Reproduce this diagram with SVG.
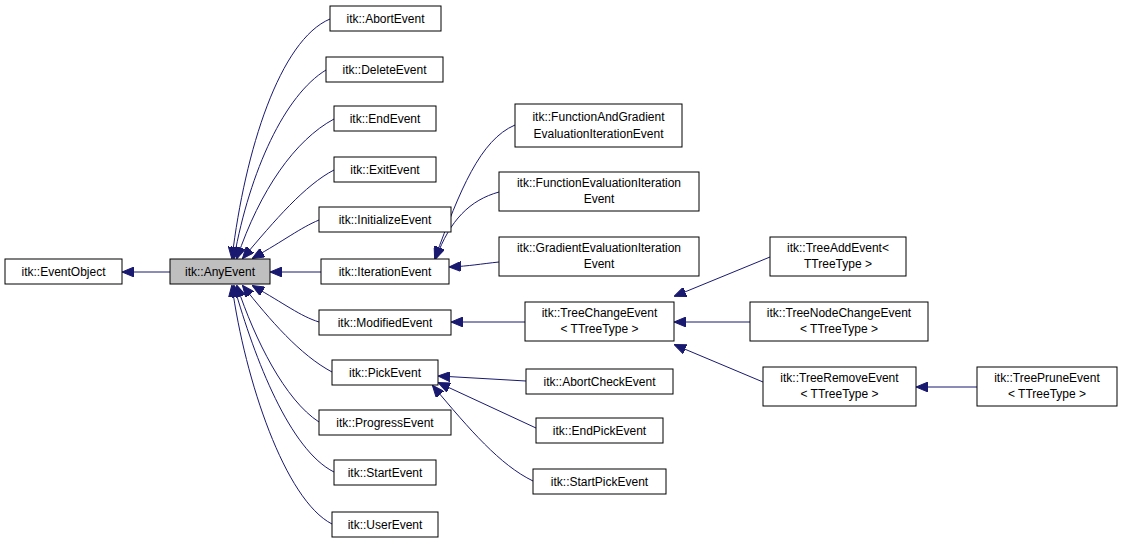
<svg xmlns="http://www.w3.org/2000/svg" width="1123" height="544" viewBox="0 0 1123 544">
<style>
.n rect{fill:#fff;stroke:#000;stroke-width:1}
.n text{font-family:"Liberation Sans",Arial,sans-serif;font-size:12px;text-anchor:middle;fill:#000}
#e path{fill:none;stroke:#191970;stroke-width:1;marker-end:url(#a)}
</style>
<defs><marker id="a" markerWidth="12" markerHeight="10" refX="11" refY="5" orient="auto" markerUnits="userSpaceOnUse"><path d="M0,0 L12,5 L0,10 Z" fill="#191970" stroke="#191970"/></marker></defs>
<rect width="1123" height="544" fill="#fff"/>
<g id="e">
<path d="M170,272 H123"/>
<path d="M330,19 C280,40 245,150 232,258"/>
<path d="M326,70 C285,95 250,170 234,258"/>
<path d="M334,119 C295,140 260,190 237,258"/>
<path d="M334,170 C305,185 275,220 243,258"/>
<path d="M319,220 C300,228 285,240 253,258"/>
<path d="M321,272 H271"/>
<path d="M319,322 C300,316 285,304 253,286"/>
<path d="M332,372 C300,355 270,320 243,286"/>
<path d="M319,422 C285,400 255,340 237,286"/>
<path d="M334,472 C290,450 255,360 234,286"/>
<path d="M332,524 C285,500 245,380 232,286"/>
<path d="M515,125 C480,140 460,190 435,258"/>
<path d="M499,192 C470,200 450,220 436,258"/>
<path d="M499,262 C480,264 470,266 450,267"/>
<path d="M525,322 H452"/>
<path d="M526,381 L439,376"/>
<path d="M536,428 L439,383"/>
<path d="M533,481 C500,465 470,430 433,386"/>
<path d="M770,257 L675,296"/>
<path d="M750,322 H675"/>
<path d="M763,382 L675,345"/>
<path d="M977,387 H917"/>
</g>
<g id="EventObject" class="n"><rect x="5" y="259" width="117" height="25"/><text x="63.5" y="276">itk::EventObject</text></g>
<g id="AnyEvent" class="n"><rect x="170" y="259" width="100" height="25" style="fill:#bfbfbf"/><text x="220" y="276">itk::AnyEvent</text></g>
<g id="AbortEvent" class="n"><rect x="330" y="6" width="111" height="25"/><text x="385.5" y="23">itk::AbortEvent</text></g>
<g id="DeleteEvent" class="n"><rect x="326" y="57" width="117" height="25"/><text x="384.5" y="74">itk::DeleteEvent</text></g>
<g id="EndEvent" class="n"><rect x="334" y="106" width="102" height="25"/><text x="385" y="123">itk::EndEvent</text></g>
<g id="ExitEvent" class="n"><rect x="334" y="157" width="102" height="25"/><text x="385" y="174">itk::ExitEvent</text></g>
<g id="InitializeEvent" class="n"><rect x="319" y="207" width="132" height="25"/><text x="385" y="224">itk::InitializeEvent</text></g>
<g id="IterationEvent" class="n"><rect x="321" y="259" width="128" height="25"/><text x="385" y="276">itk::IterationEvent</text></g>
<g id="ModifiedEvent" class="n"><rect x="319" y="310" width="132" height="25"/><text x="385" y="327">itk::ModifiedEvent</text></g>
<g id="PickEvent" class="n"><rect x="332" y="360" width="106" height="25"/><text x="385" y="377">itk::PickEvent</text></g>
<g id="ProgressEvent" class="n"><rect x="319" y="410" width="132" height="25"/><text x="385" y="427">itk::ProgressEvent</text></g>
<g id="StartEvent" class="n"><rect x="334" y="460" width="102" height="25"/><text x="385" y="477">itk::StartEvent</text></g>
<g id="UserEvent" class="n"><rect x="332" y="512" width="106" height="25"/><text x="385" y="529">itk::UserEvent</text></g>
<g id="FGEIE" class="n"><rect x="515" y="104" width="167" height="43"/><text x="598.5" y="121">itk::FunctionAndGradient</text><text x="598.5" y="138">EvaluationIterationEvent</text></g>
<g id="FEIE" class="n"><rect x="499" y="172" width="200" height="39"/><text x="599" y="187">itk::FunctionEvaluationIteration</text><text x="599" y="203">Event</text></g>
<g id="GEIE" class="n"><rect x="499" y="237" width="200" height="39"/><text x="599" y="252">itk::GradientEvaluationIteration</text><text x="599" y="268">Event</text></g>
<g id="TreeChangeEvent" class="n"><rect x="525" y="302" width="149" height="39"/><text x="599.5" y="317">itk::TreeChangeEvent</text><text x="599.5" y="333">&lt; TTreeType &gt;</text></g>
<g id="AbortCheckEvent" class="n"><rect x="526" y="369" width="147" height="25"/><text x="599.5" y="386">itk::AbortCheckEvent</text></g>
<g id="EndPickEvent" class="n"><rect x="536" y="418" width="127" height="25"/><text x="599.5" y="435">itk::EndPickEvent</text></g>
<g id="StartPickEvent" class="n"><rect x="533" y="469" width="133" height="25"/><text x="599.5" y="486">itk::StartPickEvent</text></g>
<g id="TreeAddEvent" class="n"><rect x="770" y="237" width="136" height="39"/><text x="838" y="252">itk::TreeAddEvent&lt;</text><text x="838" y="268"> TTreeType &gt;</text></g>
<g id="TreeNodeChangeEvent" class="n"><rect x="750" y="302" width="178" height="39"/><text x="839" y="317">itk::TreeNodeChangeEvent</text><text x="839" y="333">&lt; TTreeType &gt;</text></g>
<g id="TreeRemoveEvent" class="n"><rect x="763" y="367" width="153" height="39"/><text x="839.5" y="382">itk::TreeRemoveEvent</text><text x="839.5" y="398">&lt; TTreeType &gt;</text></g>
<g id="TreePruneEvent" class="n"><rect x="977" y="367" width="140" height="39"/><text x="1047" y="382">itk::TreePruneEvent</text><text x="1047" y="398">&lt; TTreeType &gt;</text></g>
</svg>
